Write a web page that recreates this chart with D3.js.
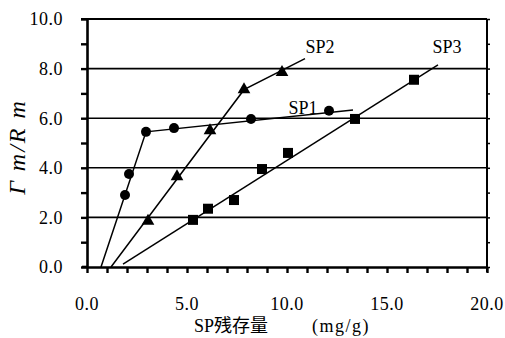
<!DOCTYPE html>
<html>
<head>
<meta charset="utf-8">
<script src="https://cdnjs.cloudflare.com/ajax/libs/d3/7.8.5/d3.min.js"></script>
<style>
body { margin:0; background:#fff; }
svg { display:block; }
</style>
</head>
<body>
<div id="content"></div>
<script>
// SP1 (circles)
var sp1X = [1.9, 2.1, 2.95, 4.35, 8.2, 12.1];
var sp1Y = [2.9, 3.75, 5.45, 5.6, 5.97, 6.3];
var sp1LineX = [0.7, 2.95, 13.3];
var sp1LineY = [0, 5.45, 6.33];
// SP2 (triangles)
var sp2X = [3.05, 4.5, 6.15, 7.85, 9.75];
var sp2Y = [1.85, 3.65, 5.5, 7.15, 7.85];
var sp2LineX = [1.2, 7.85, 10.9];
var sp2LineY = [0, 7.15, 8.4];
// SP3 (squares)
var sp3X = [5.3, 6.05, 7.35, 8.75, 10.05, 13.4, 16.35];
var sp3Y = [1.9, 2.35, 2.7, 3.95, 4.6, 5.97, 7.55];
var sp3LineX = [1.8, 17.55];
var sp3LineY = [0.12, 8.15];

var xTicks = ["0.0", "5.0", "10.0", "15.0", "20.0"];
var yTicks = ["0.0", "2.0", "4.0", "6.0", "8.0", "10.0"];
var seriesNames = ["SP1", "SP2", "SP3"];

var width = 505, height = 338;
var margin = {top: 19, right: 18, bottom: 71, left: 87};

var svg = d3.select("#content").append("svg")
    .attr("width", width)
    .attr("height", height);

var x = d3.scaleLinear().domain([0, 20]).range([margin.left, width - margin.right]);
var y = d3.scaleLinear().domain([0, 10]).range([height - margin.bottom, margin.top]);

var serif = "'Liberation Serif', 'DejaVu Serif', serif";

// gridlines
svg.append("g")
  .selectAll("line")
  .data([2, 4, 6, 8])
  .enter().append("line")
    .attr("x1", x(0)).attr("x2", x(20))
    .attr("y1", function(d) { return y(d); })
    .attr("y2", function(d) { return y(d); })
    .attr("stroke", "#000")
    .attr("stroke-width", 1.6);

// frame top / right
svg.append("line")
    .attr("x1", x(0) - 6).attr("x2", x(20))
    .attr("y1", y(10)).attr("y2", y(10))
    .attr("stroke", "#000").attr("stroke-width", 2);
svg.append("line")
    .attr("x1", x(20)).attr("x2", x(20))
    .attr("y1", y(10)).attr("y2", y(0) + 5)
    .attr("stroke", "#000").attr("stroke-width", 2);

// right side small ticks
svg.append("g")
  .attr("transform", "translate(" + x(20) + ",0)")
  .call(d3.axisRight(y).ticks(10).tickSize(3).tickFormat(""))
  .call(function(g) { g.select(".domain").remove(); })
  .selectAll("line").attr("stroke-width", 1.5);

// x axis
var xAxis = svg.append("g")
    .attr("transform", "translate(0," + y(0) + ")")
    .call(d3.axisBottom(x).ticks(20).tickSize(6).tickSizeOuter(0).tickFormat(""));
xAxis.select(".domain").attr("stroke-width", 2.6);
xAxis.selectAll(".tick line").attr("stroke-width", 2.4);
svg.append("line")
    .attr("x1", x(0) - 5).attr("x2", x(0))
    .attr("y1", y(0)).attr("y2", y(0))
    .attr("stroke", "#000").attr("stroke-width", 2.6);

svg.append("g")
  .selectAll("text")
  .data(xTicks)
  .enter().append("text")
    .attr("x", function(d) { return x(+d); })
    .attr("y", 310)
    .attr("text-anchor", "middle")
    .style("font-family", serif)
    .style("font-size", "18px")
    .style("letter-spacing", "0.5px")
    .text(function(d) { return d; });

// y axis
var yAxis = svg.append("g")
    .attr("transform", "translate(" + x(0) + ",0)")
    .call(d3.axisLeft(y).ticks(10).tickSize(6).tickSizeOuter(0).tickFormat(""));
yAxis.select(".domain").attr("stroke-width", 2.6);
yAxis.selectAll(".tick line").attr("stroke-width", 2.4);

svg.append("g")
  .selectAll("text")
  .data(yTicks)
  .enter().append("text")
    .attr("x", 63)
    .attr("y", function(d) { return y(+d); })
    .attr("dy", "0.35em")
    .attr("text-anchor", "end")
    .style("font-family", serif)
    .style("font-size", "18px")
    .style("letter-spacing", "0.5px")
    .text(function(d) { return d; });

// axis titles
svg.append("text")
    .attr("transform", "translate(25,147) rotate(-90)")
    .attr("text-anchor", "middle")
    .style("font-family", serif)
    .style("font-style", "italic")
    .style("font-size", "24px")
    .style("letter-spacing", "2px")
    .text("Γ m/R m");

svg.append("text")
    .attr("x", 194)
    .attr("y", 332)
    .style("font-size", "18px")
    .call(function(t) {
      t.append("tspan").style("font-family", serif).text("SP");
      t.append("tspan").style("font-family", "'Noto Sans CJK JP'").text("残存量");
      t.append("tspan").attr("x", 312).style("font-family", serif)
        .style("letter-spacing", "1.5px").text("(mg/g)");
    });

// fit lines
var line = d3.line()
    .x(function(d) { return x(d[0]); })
    .y(function(d) { return y(d[1]); });

[[sp1LineX, sp1LineY], [sp2LineX, sp2LineY], [sp3LineX, sp3LineY]].forEach(function(s) {
  svg.append("path")
    .datum(d3.zip(s[0], s[1]))
    .attr("d", line)
    .attr("fill", "none")
    .attr("stroke", "#000")
    .attr("stroke-width", 1.5);
});

// markers
svg.append("g").selectAll("circle")
  .data(d3.zip(sp1X, sp1Y))
  .enter().append("circle")
    .attr("cx", function(d) { return x(d[0]); })
    .attr("cy", function(d) { return y(d[1]); })
    .attr("r", 5)
    .attr("fill", "#000");

svg.append("g").selectAll("path")
  .data(d3.zip(sp2X, sp2Y))
  .enter().append("path")
    .attr("transform", function(d) { return "translate(" + x(d[0]) + "," + y(d[1]) + ")"; })
    .attr("d", d3.symbol(d3.symbolTriangle, 70))
    .attr("fill", "#000");

svg.append("g").selectAll("rect")
  .data(d3.zip(sp3X, sp3Y))
  .enter().append("rect")
    .attr("x", function(d) { return x(d[0]) - 5; })
    .attr("y", function(d) { return y(d[1]) - 5; })
    .attr("width", 10)
    .attr("height", 10)
    .attr("fill", "#000");

// series labels
var labelX = [10.8, 11.65, 18.0];
var labelY = [6.17, 8.63, 8.63];
svg.append("g").selectAll("text")
  .data(seriesNames)
  .enter().append("text")
    .attr("x", function(d, i) { return x(labelX[i]); })
    .attr("y", function(d, i) { return y(labelY[i]); })
    .attr("text-anchor", "middle")
    .style("font-family", serif)
    .style("font-size", "18px")
    .text(function(d) { return d; });
</script>
</body>
</html>
